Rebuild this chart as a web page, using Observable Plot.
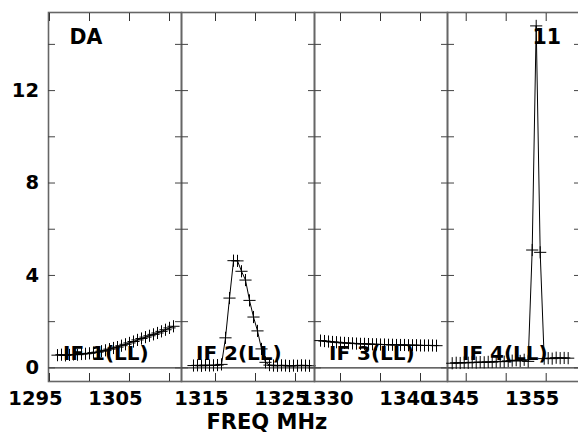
<!DOCTYPE html>
<html><head><meta charset="utf-8">
<script src="https://cdn.jsdelivr.net/npm/d3@7"></script>
<script src="https://cdn.jsdelivr.net/npm/@observablehq/plot@0.6"></script>
<style>
html,body{margin:0;padding:0;background:#fff;overflow:hidden;}
#chart{position:relative;width:578px;height:434px;overflow:hidden;background:#fff;}
#chart svg{position:absolute;left:0;top:0;}
</style></head><body><div id="chart"></div>
<script>
// Channel frequencies (MHz) and amplitudes for each IF
const if1Freq = [1296,1296.5,1297,1297.5,1298,1298.5,1299,1299.5,1300,1300.5,1301,1301.5,1302,1302.5,1303,1303.5,1304,1304.5,1305,1305.5,1306,1306.5,1307,1307.5,1308,1308.5,1309,1309.5,1310,1310.5];
const if1Amp  = [0.55,0.57,0.54,0.56,0.58,0.57,0.60,0.61,0.63,0.66,0.68,0.72,0.76,0.81,0.86,0.90,0.96,1.02,1.08,1.14,1.21,1.27,1.33,1.39,1.45,1.51,1.58,1.65,1.73,1.80];

const if2Freq = [1312.25,1312.75,1313.25,1313.75,1314.25,1314.75,1315.25,1315.75,1316.25,1316.75,1317.25,1317.75,1318.25,1318.75,1319.25,1319.75,1320.25,1320.75,1321.25,1321.75,1322.25,1322.75,1323.25,1323.75,1324.25,1324.75,1325.25,1325.75,1326.25,1326.75];
const if2Amp  = [0.10,0.11,0.09,0.12,0.10,0.11,0.12,0.15,1.30,3.02,4.64,4.63,4.18,3.80,2.92,2.20,1.60,0.82,0.24,0.12,0.10,0.09,0.11,0.10,0.08,0.10,0.09,0.11,0.10,0.09];

const if3Freq = [1327.5,1328,1328.5,1329,1329.5,1330,1330.5,1331,1331.5,1332,1332.5,1333,1333.5,1334,1334.5,1335,1335.5,1336,1336.5,1337,1337.5,1338,1338.5,1339,1339.5,1340,1340.5,1341,1341.5,1342];
const if3Amp  = [1.18,1.16,1.14,1.12,1.11,1.09,1.08,1.07,1.06,1.05,1.04,1.04,1.03,1.02,1.02,1.01,1.01,1.00,1.00,0.99,0.99,0.99,0.98,0.98,0.98,0.97,0.97,0.97,0.97,0.96];

const if4Freq = [1343.25,1343.75,1344.25,1344.75,1345.25,1345.75,1346.25,1346.75,1347.25,1347.75,1348.25,1348.75,1349.25,1349.75,1350.25,1350.75,1351.25,1351.75,1352.25,1352.75,1353.25,1353.75,1354.25,1354.75,1355.25,1355.75,1356.25,1356.75,1357.25,1357.75];
const if4Amp  = [0.20,0.22,0.21,0.23,0.22,0.24,0.23,0.25,0.24,0.26,0.25,0.27,0.28,0.27,0.30,0.31,0.33,0.30,0.35,0.28,5.10,14.80,5.00,0.40,0.42,0.40,0.44,0.42,0.43,0.42];

const ifNames = ["IF 1(LL)","IF 2(LL)","IF 3(LL)","IF 4(LL)"];
const xDomains = [[1294.875,1311.5],[1310.75,1327.375],[1326.75,1343.375],[1342.66,1359.29]];
const xTicks = [[1295,1300,1305,1310],[1315,1320,1325],[1330,1335,1340],[1345,1350,1355]];
const xTickLabels = [[1295,1305],[1315,1325],[1330,1340],[1345,1355]];
const yTicks = [0,2,4,6,8,10,12,14];
const yTickLabels = [0,4,8,12];
const yDomain = [-0.59, 15.38];
const sourceName = "DA";
const plotNumber = "11";
const xTitle = "FREQ MHz";

const freqs = [if1Freq, if2Freq, if3Freq, if4Freq];
const amps = [if1Amp, if2Amp, if3Amp, if4Amp];

const W = 580, H = 434, panelW = 133;
const lefts = [48, 181, 314, 447];
const FONT = "DejaVu Sans";
const chart = document.getElementById("chart");

for (let i = 0; i < 4; i++) {
  const data = freqs[i].map((f, j) => ({f, a: amps[i][j]}));
  const marks = [
    Plot.ruleY([0], {stroke: "#333", strokeWidth: 1.3}),
    Plot.frame({stroke: "#666", strokeWidth: 1.6}),
    Plot.axisX({anchor: "bottom", ticks: xTicks[i], tickSize: -8, fill: "none", stroke: "#333", label: null}),
    Plot.axisX({anchor: "top", ticks: xTicks[i], tickSize: -8, fill: "none", stroke: "#333", label: null}),
    Plot.axisX({anchor: "bottom", ticks: xTickLabels[i], tickSize: 0, tickPadding: 10, dx: -14, tickFormat: d => String(d), fontSize: 19.5, fontWeight: "bold", fontFamily: FONT, fill: "black", label: null}),
    Plot.axisY({anchor: "left", ticks: yTicks, tickSize: -7, fill: "none", stroke: "#444", label: null}),
    Plot.axisY({anchor: "right", ticks: yTicks, tickSize: -7, fill: "none", stroke: "#444", label: null}),
    Plot.line(data, {x: "f", y: "a", stroke: "black", strokeWidth: 1}),
    Plot.dot(data, {x: "f", y: "a", symbol: "plus", r: 4, stroke: "black", strokeWidth: 1}),
    Plot.text([ifNames[i]], {frameAnchor: "bottom-left", dx: 14.5, dy: -21.5, lineAnchor: "bottom", textAnchor: "start", fontSize: 20, fontWeight: "bold", fontFamily: FONT, fill: "black"})
  ];
  if (i === 0) {
    marks.push(Plot.axisY({anchor: "left", ticks: yTickLabels, tickSize: 0, tickPadding: 9.5, tickFormat: d => String(d), fontSize: 19.5, fontWeight: "bold", fontFamily: FONT, fill: "black", label: null}));
    marks.push(Plot.text([sourceName], {frameAnchor: "top-left", dx: 21, dy: 17, lineAnchor: "top", textAnchor: "start", fontSize: 20.5, fontWeight: "bold", fontFamily: FONT, fill: "black"}));
  }
  if (i === 1) {
    marks.push(Plot.text([xTitle], {frameAnchor: "bottom-left", dx: 25, dy: 47.5, lineAnchor: "bottom", textAnchor: "start", fontSize: 21, fontWeight: "bold", fontFamily: FONT, fill: "black"}));
  }
  if (i === 3) {
    marks.push(Plot.text([plotNumber], {frameAnchor: "top-right", dx: -19.5, dy: 17, lineAnchor: "top", textAnchor: "end", fontSize: 20.5, fontWeight: "bold", fontFamily: FONT, fill: "black"}));
  }
  const svg = Plot.plot({
    width: W, height: H,
    marginLeft: lefts[i], marginRight: W - lefts[i] - panelW, marginTop: 12, marginBottom: 53,
    style: {background: "transparent", overflow: "visible", maxWidth: "none", fontFamily: FONT},
    x: {domain: xDomains[i], label: null},
    y: {domain: yDomain, label: null},
    marks
  });
  chart.appendChild(svg);
}
</script></body></html>
